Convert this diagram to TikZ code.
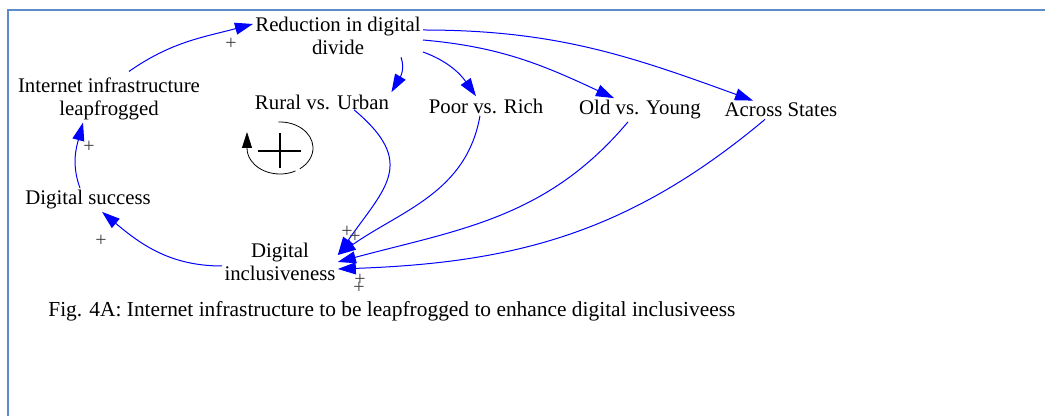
\documentclass[tikz,border=0pt]{standalone}
\usepackage{fontspec}
\setmainfont{Liberation Serif}
\usetikzlibrary{arrows.meta}
\definecolor{framecol}{RGB}{91,139,203}
\begin{document}
\begin{tikzpicture}[x=0.5pt,y=-0.5pt,
  var/.style={align=center,inner sep=1pt,font=\fontsize{10.4}{11.6}\selectfont},
  link/.style={blue,line width=0.5pt,-{Triangle[length=9pt,width=6pt]}},
  pol/.style={inner sep=0pt,text=black!75,font=\fontsize{10}{10}\selectfont}]
\useasboundingbox (0,0) rectangle (1045,416);
\draw[framecol,line width=1.3pt] (8,416) -- (8,10) -- (1045,10);
% variables
\node[var] (red) at (338,36) {Reduction in digital\\divide};
\node[var] (inet) at (109,99) {Internet infrastructure\\leapfrogged};
\node[var] (ds) at (88,200) {Digital success};
\node[var] (incl) at (280,262) {Digital\\inclusiveness};
\node[var] (rural) at (322,102) {Rural vs. Urban};
\node[var] (poor) at (486,106) {Poor vs. Rich};
\node[var] (old) at (640,110) {Old vs. Young};
\node[var] (across) at (781,110) {Across States};
% main loop
\draw[link] ([xshift=10pt,yshift=2pt]inet.north) to[out=35,in=195] ([yshift=6pt]red.west);
\draw[link] ([xshift=-4pt]ds.north) to[out=110,in=-105] ([xshift=-13pt]inet.south);
\draw[link] ([yshift=-2pt]incl.west) to[out=180,in=-40] ([xshift=7pt]ds.south);
% divides
\draw[link] ([xshift=-11pt]red.south east) to[out=-70,in=60] (rural.north east);
\draw[link] ([yshift=-8pt]red.east) to[out=-20,in=125] ([xshift=-5pt]poor.north);
\draw[link] ([yshift=-2pt]red.east) to[out=-5,in=155] ([xshift=-13pt]old.north);
\draw[link] ([yshift=3pt]red.east) to[out=0,in=160] ([xshift=-14pt]across.north);
\draw[link] ([xshift=16pt,yshift=1pt]rural.south) to[out=-40,in=55,looseness=1.45] ([yshift=3.5pt]incl.east);
\draw[link] ([xshift=-3pt]poor.south) to[out=-100,in=35] ([yshift=3.5pt]incl.east);
\draw[link] ([xshift=-6pt]old.south) to[out=-130,in=15] (incl.east);
\draw[link] ([xshift=-8pt]across.south) to[out=-140,in=2] ([yshift=-3.5pt]incl.east);
% polarities
\node[pol] (p1) at (231,44) {+};
\node[pol] (p2) at (89,147) {+};
\node[pol] (p3) at (101,241) {+};
\node[pol] (p4) at (347,232) {+};
\node[pol] (p5) at (355,237) {+};
\node[pol] (p6) at (360,280) {+};
\node[pol] (p7) at (359,288) {+};
% loop symbol
\coordinate (loop) at (280,148);
\draw[line width=1pt] (258,151) -- (301,151);
\draw[line width=1pt] (280,133) -- (280,168);
\draw ([shift={(93:16.5pt and 13pt)}]loop) arc[start angle=93,end angle=-53,x radius=16.5pt,y radius=13pt];
\draw[-{Triangle[length=8pt,width=5pt]}] ([shift={(-62:16.5pt and 13pt)}]loop) arc[start angle=-62,end angle=-180,x radius=16.5pt,y radius=13pt] -- ++(0,-16);
% caption
\node[anchor=west,inner sep=0pt,font=\fontsize{10.7}{12}\selectfont] (cap) at (48,311) {Fig. 4A: Internet infrastructure to be leapfrogged to enhance digital inclusiveess};
\end{tikzpicture}
\end{document}
